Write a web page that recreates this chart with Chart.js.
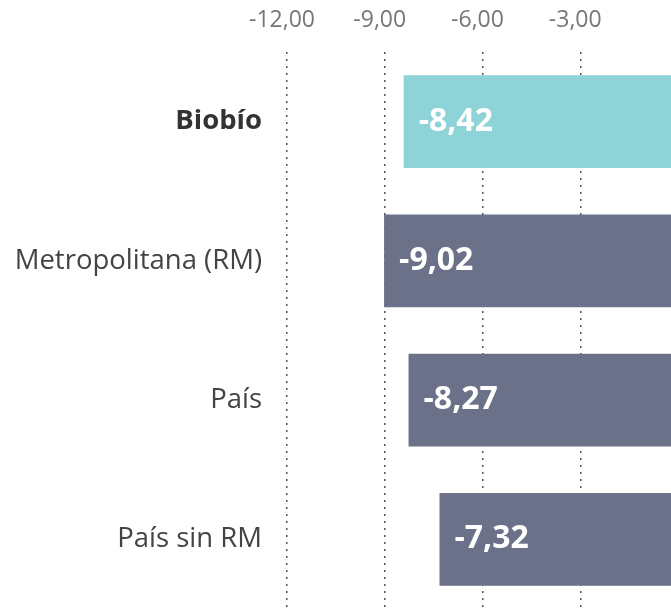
<!DOCTYPE html>
<html>
<head>
<meta charset="utf-8">
<script src="https://cdn.jsdelivr.net/npm/chart.js@4.4.1/dist/chart.umd.min.js"></script>
<style>
  html, body { margin: 0; padding: 0; background: #fff; overflow: hidden; }
  #wrap { position: relative; width: 690px; height: 609px; }
</style>
</head>
<body>
<div id="wrap"><canvas id="chart"></canvas></div>
<script>
// Data
const regions = ['Biobío', 'Metropolitana (RM)', 'País', 'País sin RM'];
const values = [-8.42, -9.02, -8.27, -7.32];
const barColors = ['#8dd3d7', '#6b7189', '#6b7189', '#6b7189'];
const tickValues = [-12, -9, -6, -3];

const fmt = (v) => v.toFixed(2).replace('.', ',');

// draws the value inside each bar, left side, white bold
const valueLabels = {
  id: 'valueLabels',
  afterDatasetsDraw(chart) {
    const ctx = chart.ctx;
    const meta = chart.getDatasetMeta(0);
    ctx.save();
    ctx.fillStyle = '#ffffff';
    ctx.font = 'bold 32px "Open Sans"';
    ctx.textAlign = 'left';
    ctx.textBaseline = 'middle';
    meta.data.forEach((bar, i) => {
      const left = Math.min(bar.x, bar.base);
      ctx.fillText(fmt(values[i]), left + 15, bar.y);
    });
    ctx.restore();
  }
};

new Chart(document.getElementById('chart'), {
  type: 'bar',
  data: {
    labels: regions,
    datasets: [{
      data: values,
      backgroundColor: barColors,
      borderWidth: 0,
      categoryPercentage: 1,
      barPercentage: 0.667
    }]
  },
  options: {
    indexAxis: 'y',
    responsive: true,
    maintainAspectRatio: false,
    animation: false,
    layout: { padding: { left: 0, right: 12, top: 0, bottom: 0 } },
    plugins: {
      legend: { display: false },
      tooltip: { enabled: false }
    },
    scales: {
      x: {
        position: 'top',
        min: -12,
        max: 0,
        afterBuildTicks: (scale) => {
          scale.ticks = tickValues.map(v => ({ value: v }));
        },
        afterFit: (scale) => { scale.height = 52; },
        grid: {
          color: '#555555',
          lineWidth: 1.5,
          drawTicks: false
        },
        border: { display: false, dash: [2, 5] },
        ticks: {
          color: '#777777',
          font: { family: 'Open Sans', size: 23 },
          padding: 18,
          labelOffset: -5,
          callback: (v) => fmt(v)
        }
      },
      y: {
        afterFit: (scale) => {
          scale.width = 287;
          scale.paddingTop = 0;
          scale.paddingBottom = 0;
        },
        border: { display: false },
        grid: { display: false, drawTicks: false },
        ticks: {
          padding: 25,
          color: (c) => c.index === 0 ? '#333333' : '#444444',
          font: (c) => ({
            family: 'Open Sans',
            size: 27.5,
            weight: c.index === 0 ? 'bold' : 'normal'
          })
        }
      }
    }
  },
  plugins: [valueLabels]
});
</script>
</body>
</html>
